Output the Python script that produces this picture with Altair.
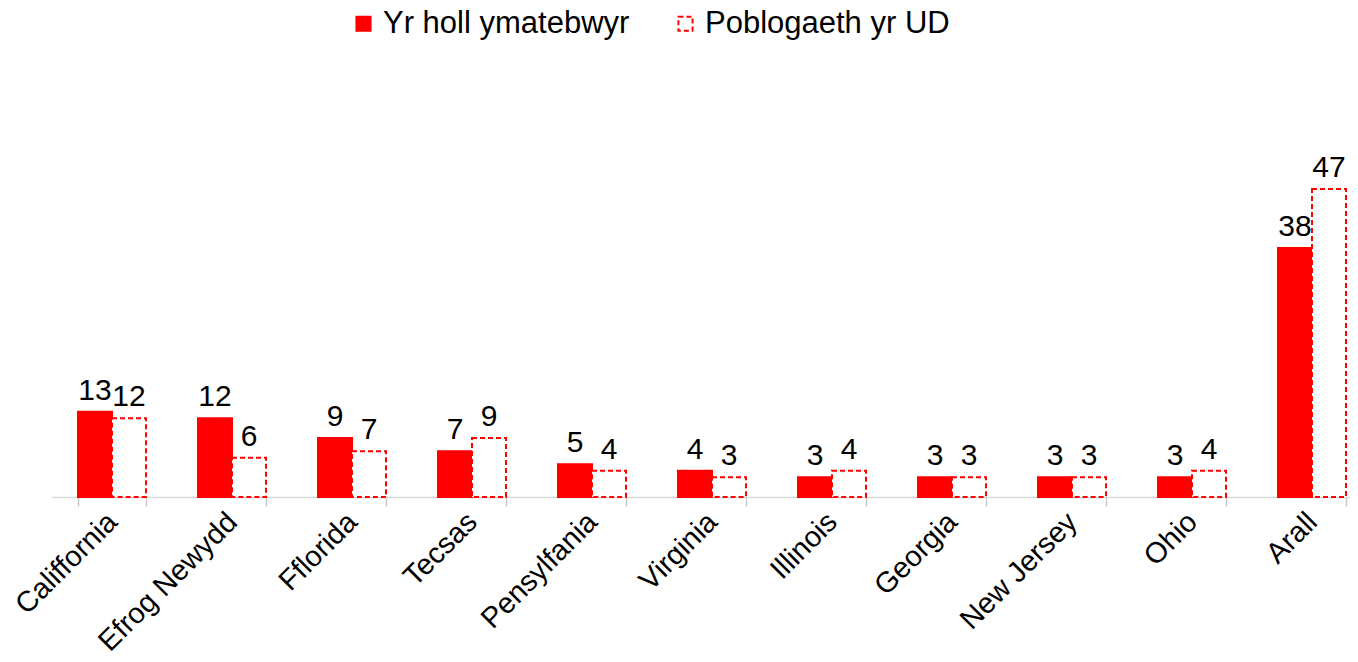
import altair as alt
import pandas as pd

states = ["Califfornia", "Efrog Newydd", "Fflorida", "Tecsas", "Pensylfania",
          "Virginia", "Illinois", "Georgia", "New Jersey", "Ohio", "Arall"]
series_names = ["Yr holl ymatebwyr", "Poblogaeth yr UD"]
respondents = [13, 12, 9, 7, 5, 4, 3, 3, 3, 3, 38]
population = [12, 6, 7, 9, 4, 3, 4, 3, 3, 4, 47]

rows = []
for s, a, b in zip(states, respondents, population):
    rows.append({"state": s, "series": series_names[0], "value": a})
    rows.append({"state": s, "series": series_names[1], "value": b})
df = pd.DataFrame(rows)

H = 447
W = 1298
XR = 1320
ymax = H * 47 / 308

x = alt.X("state:N", sort=states, title=None,
          scale=alt.Scale(range=[0, XR], paddingInner=0.4333, paddingOuter=0.21667),
          axis=alt.Axis(labelAngle=-45, labelFontSize=29, labelFont="Liberation Sans",
                        labelColor="#000000", labelBaseline="middle", labelAlign="right",
                        labelLimit=0, labelOverlap=False,
                        domainColor="#d9d9d9", tickColor="#c8c8c8",
                        tickSize=9, tickWidth=1.5, tickBand="extent", labelPadding=11,
                        domainWidth=1.5))
xoff = alt.XOffset("series:N", sort=series_names, scale=alt.Scale(paddingInner=0))
y = alt.Y("value:Q", scale=alt.Scale(domain=[0, ymax], nice=False), axis=None)

bars = alt.Chart(df).mark_bar(stroke="#ff0000", strokeWidth=2).encode(
    x=x, xOffset=xoff, y=y,
    fill=alt.Fill("series:N", sort=series_names,
                  scale=alt.Scale(domain=series_names, range=["#ff0000", "#ffffff"]),
                  legend=alt.Legend(title=None, orient="none", legendX=296, legendY=-42,
                                    direction="horizontal", labelFontSize=31,
                                    labelFont="Liberation Sans", labelColor="#000000",
                                    symbolType="square", symbolSize=200, symbolStrokeWidth=2,
                                    columnPadding=40, labelOffset=4, labelLimit=400,
                                    padding=0)),
    strokeDash=alt.StrokeDash("series:N", sort=series_names,
                              scale=alt.Scale(domain=series_names, range=[[1, 0], [5, 3]]),
                              legend=alt.Legend(title=None)),
)

labels = alt.Chart(df).mark_text(baseline="bottom", dy=-6, fontSize=30,
                                 font="Liberation Sans", color="#000000").encode(
    x=x, xOffset=xoff, y=y, text=alt.Text("value:Q"),
)

chart = alt.layer(bars, labels).properties(
    width=W, height=H,
    autosize=alt.AutoSizeParams(type="none"),
    padding={"left": 44, "top": 42, "right": 0, "bottom": 157},
).configure_view(stroke=None)

chart.save("out.html", embed_options={"renderer": "svg", "actions": False})
